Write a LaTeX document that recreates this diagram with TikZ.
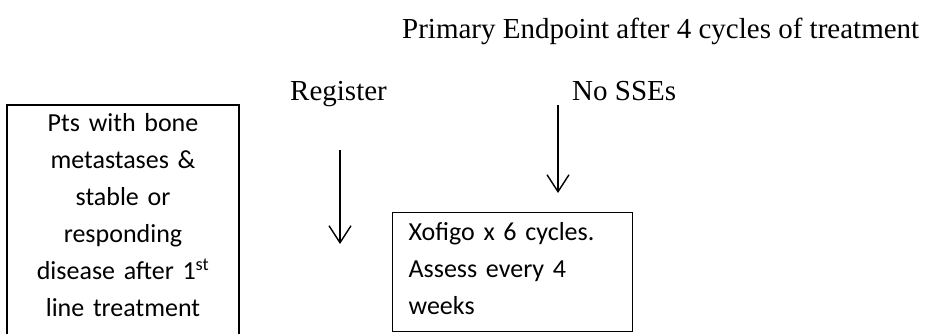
\documentclass[tikz,border=0pt]{standalone}
\usepackage{fontspec}
\setmainfont{Liberation Serif}
\newfontfamily\calfont{Carlito}
\usetikzlibrary{arrows.meta}
\begin{document}
\begin{tikzpicture}[x=1pt,y=-1pt,
  lbl/.style={inner sep=0pt, anchor=base west, font=\fontsize{29}{34}\selectfont},
  boxtxt/.style={inner sep=0pt, font=\calfont\fontsize{26}{37}\selectfont},
  arr/.style={line width=1.4pt, -{Straight Barb[length=17pt,width=22pt]}}
]
\clip (0,0) rectangle (927,333);
\fill[white] (0,0) rectangle (927,333);

% texts
\node[lbl] (primary) at (402,38) {Primary Endpoint after 4 cycles of treatment};
\node[lbl] (register) at (290,100) {Register};
\node[lbl] (nosse) at (572,100) {No SSEs};

% left box (bottom cut off by the frame)
\draw[line width=1.3pt] (7,105) rectangle (239,360);
\node[boxtxt, anchor=north, text width=220pt, align=center] (pts) at (123,113)
  {Pts with bone\\ metastases \&\\ stable or\\ responding\\ disease after 1\textsuperscript{st}\\ line treatment};

% Xofigo box
\node[boxtxt, draw, line width=1.3pt, anchor=north west, text width=208pt, inner xsep=16pt,
  minimum width=240pt, minimum height=119pt, align=left] (xo) at (392,212)
  {Xofigo x 6 cycles.\\ Assess every 4\\ weeks\rule[-7pt]{0pt}{7pt}};

% arrows
\coordinate (a1s) at (340,150);
\coordinate (a1e) at (340,244);
\coordinate (a2s) at (558,105);
\coordinate (a2e) at (558,193);
\draw[arr] (a1s) -- (a1e);
\draw[arr] (a2s) -- (a2e);
\end{tikzpicture}
\end{document}
